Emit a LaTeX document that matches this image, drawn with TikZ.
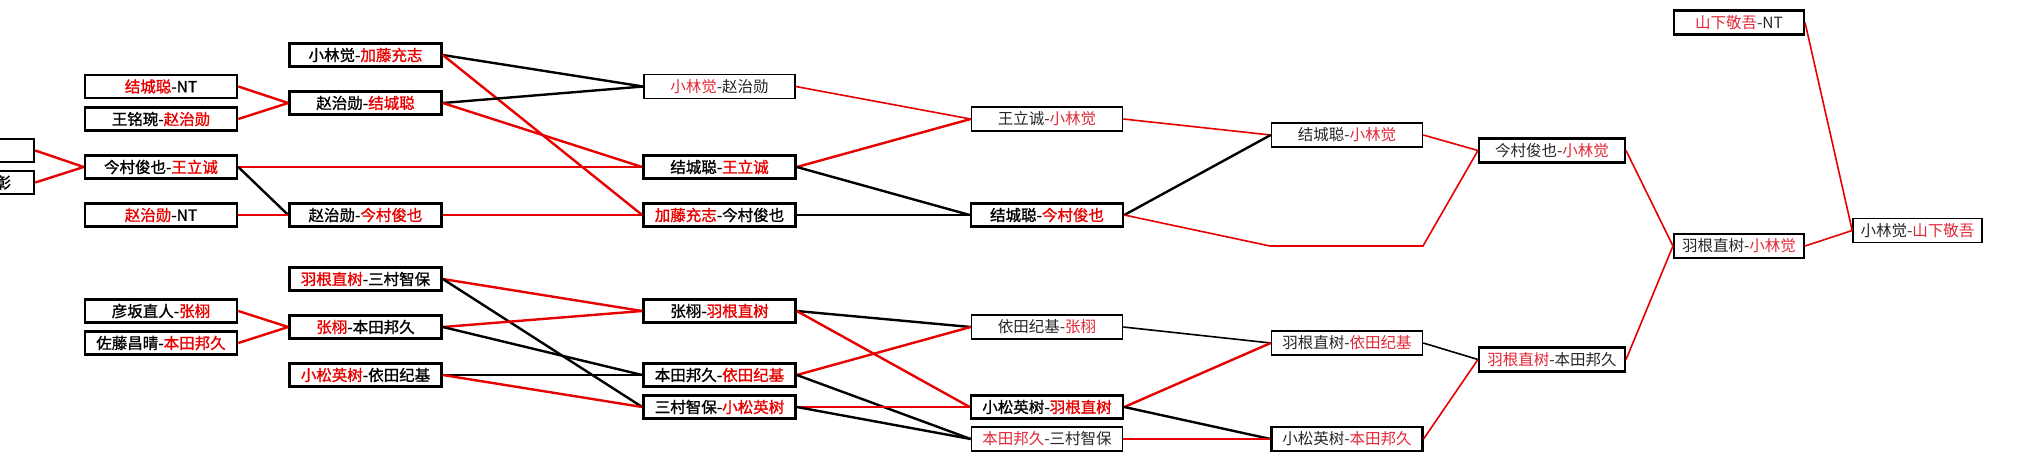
\documentclass[tikz,border=0pt]{standalone}
\usepackage{fontspec}
\newfontfamily\cjk{Noto Sans CJK SC}
\newfontfamily\cjkbold[FakeBold=1.2]{Noto Sans CJK SC}
\definecolor{wred}{RGB}{232,0,0}
\definecolor{lred}{RGB}{226,40,55}
\colorlet{namered}{wred}
\newcommand\wn[1]{\textcolor{namered}{#1}}
\begin{document}
\begin{tikzpicture}[x=1pt,y=-1pt,
  tbox/.style={draw, line width=2.6pt, minimum width=152pt, minimum height=23pt, inner sep=0pt,
    font=\cjkbold\fontsize{15.5}{18}\selectfont},
  lbox/.style={draw, line width=1.6pt, minimum width=151pt, minimum height=24pt, inner sep=0pt,
    text=black!85, font=\cjk\fontsize{15.5}{18}\selectfont,
    execute at begin node=\colorlet{namered}{lred}},
  mbox/.style={lbox, line width=2.1pt},
  win/.style={draw=wred, line width=2.4pt},
  lose/.style={draw=black, line width=2.4pt},
  slim/.style={line width=1.6pt}]
  \clip (0,0) rectangle (2019,461);
  \fill[white] (0,0) rectangle (2019,461);
  % first round, cut by the left edge
  \node[tbox, minimum width=160pt] (a1) at (-46,150.5) {\wn{今村俊也}-NT};
  \node[tbox, minimum width=160pt] (a2) at (-46,182.5) {\wn{王立诚}-今村善彰};
  % second column
  \node[tbox] (b1) at (161,86.5) {\wn{结城聪}-NT};
  \node[tbox] (b2) at (161,119) {王铭琬-\wn{赵治勋}};
  \node[tbox] (b3) at (161,167) {今村俊也-\wn{王立诚}};
  \node[tbox] (b4) at (161,215) {\wn{赵治勋}-NT};
  \node[tbox] (b5) at (161,311) {彦坂直人-\wn{张栩}};
  \node[tbox] (b6) at (161,343) {佐藤昌晴-\wn{本田邦久}};
  % third column
  \node[tbox] (c1) at (365.5,55) {小林觉-\wn{加藤充志}};
  \node[tbox] (c2) at (365.5,103) {赵治勋-\wn{结城聪}};
  \node[tbox] (c3) at (365.5,215) {赵治勋-\wn{今村俊也}};
  \node[tbox] (c4) at (365.5,279) {\wn{羽根直树}-三村智保};
  \node[tbox] (c5) at (365.5,327) {\wn{张栩}-本田邦久};
  \node[tbox] (c6) at (365.5,375) {\wn{小松英树}-依田纪基};
  % fourth column
  \node[lbox] (d1) at (719.5,86.5) {\wn{小林觉}-赵治勋};
  \node[tbox] (d2) at (719.5,167) {结城聪-\wn{王立诚}};
  \node[tbox] (d3) at (719.5,215) {\wn{加藤充志}-今村俊也};
  \node[tbox] (d4) at (719.5,311) {张栩-\wn{羽根直树}};
  \node[tbox] (d5) at (719.5,375) {本田邦久-\wn{依田纪基}};
  \node[tbox] (d6) at (719.5,407) {三村智保-\wn{小松英树}};
  % fifth column
  \node[lbox] (e1) at (1047,119) {王立诚-\wn{小林觉}};
  \node[tbox] (e2) at (1047,215) {结城聪-\wn{今村俊也}};
  \node[lbox] (e3) at (1047,327) {依田纪基-\wn{张栩}};
  \node[tbox] (e4) at (1047,407) {小松英树-\wn{羽根直树}};
  \node[lbox] (e5) at (1047,439) {\wn{本田邦久}-三村智保};
  % sixth column
  \node[lbox] (f1) at (1347,135) {结城聪-\wn{小林觉}};
  \node[lbox] (f2) at (1347,343) {羽根直树-\wn{依田纪基}};
  \node[mbox] (f3) at (1347,439) {小松英树-\wn{本田邦久}};
  \coordinate (f0in) at (1270,246);
  \coordinate (f0out) at (1423,246);
  % last columns
  \node[mbox, minimum width=146pt] (g1) at (1552,150.5) {今村俊也-\wn{小林觉}};
  \node[mbox, minimum width=146pt] (g2) at (1552,359.5) {\wn{羽根直树}-本田邦久};
  \node[mbox, minimum width=130pt] (h1) at (1739,22.5) {\wn{山下敬吾}-NT};
  \node[mbox, minimum width=130pt] (h2) at (1739,246) {羽根直树-\wn{小林觉}};
  \node[lbox, minimum width=129pt] (k1) at (1917.5,230.5) {小林觉-\wn{山下敬吾}};
  % connectors
  \draw[win] (a1.east) -- (b3.west);
  \draw[win] (a2.east) -- (b3.west);
  \draw[win] (b1.east) -- (c2.west);
  \draw[win] (b2.east) -- (c2.west);
  \draw[win] (b3.east) -- (d2.west);
  \draw[lose] (b3.east) -- (c3.west);
  \draw[win] (b4.east) -- (c3.west);
  \draw[win] (b5.east) -- (c5.west);
  \draw[win] (b6.east) -- (c5.west);
  \draw[lose] (c1.east) -- (d1.west);
  \draw[win] (c1.east) -- (d3.west);
  \draw[lose] (c2.east) -- (d1.west);
  \draw[win] (c2.east) -- (d2.west);
  \draw[win] (c3.east) -- (d3.west);
  \draw[win] (c4.east) -- (d4.west);
  \draw[lose] (c4.east) -- (d6.west);
  \draw[win] (c5.east) -- (d4.west);
  \draw[lose] (c5.east) -- (d5.west);
  \draw[lose] (c6.east) -- (d5.west);
  \draw[win] (c6.east) -- (d6.west);
  \draw[win,slim] (d1.east) -- (e1.west);
  \draw[win] (d2.east) -- (e1.west);
  \draw[lose] (d2.east) -- (e2.west);
  \draw[lose] (d3.east) -- (e2.west);
  \draw[lose] (d4.east) -- (e3.west);
  \draw[win] (d4.east) -- (e4.west);
  \draw[win] (d5.east) -- (e3.west);
  \draw[lose] (d5.east) -- (e5.west);
  \draw[win] (d6.east) -- (e4.west);
  \draw[lose] (d6.east) -- (e5.west);
  \draw[win,slim] (e1.east) -- (f1.west);
  \draw[lose] (e2.east) -- (f1.west);
  \draw[win,slim] (e2.east) -- (f0in) -- (f0out) -- (g1.west);
  \draw[lose,slim] (e3.east) -- (f2.west);
  \draw[win] (e4.east) -- (f2.west);
  \draw[lose] (e4.east) -- (f3.west);
  \draw[win,slim] (e5.east) -- (f3.west);
  \draw[win,slim] (f1.east) -- (g1.west);
  \draw[lose,slim] (f2.east) -- (g2.west);
  \draw[win,slim] (f3.east) -- (g2.west);
  \draw[win,slim] (g1.east) -- (h2.west);
  \draw[win,slim] (g2.east) -- (h2.west);
  \draw[win,slim] (h1.east) -- (k1.west);
  \draw[win,slim] (h2.east) -- (k1.west);
\end{tikzpicture}
\end{document}
